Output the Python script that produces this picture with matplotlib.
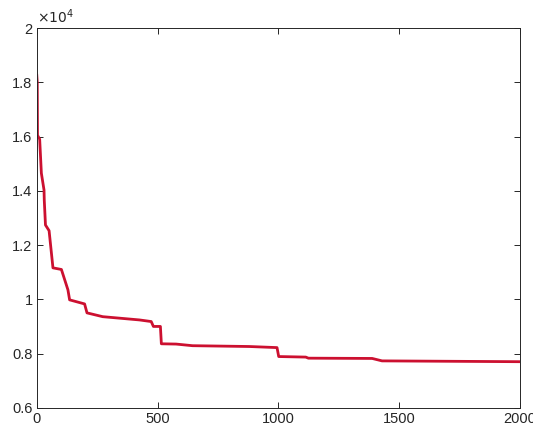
import matplotlib.pyplot as plt
from matplotlib.ticker import FuncFormatter

# convergence curve (iteration, objective value)
iters = [0, 2, 3, 12, 19, 30, 31, 36, 51, 67, 102, 129, 136, 198, 208, 273,
         425, 474, 483, 512, 516, 577, 645, 880, 995, 1002, 1114, 1125,
         1389, 1430, 2000]
values = [18260, 18000, 16050, 15900, 14650, 14030, 13660, 12740, 12530,
          11160, 11100, 10350, 9980, 9830, 9500, 9360, 9240, 9180, 9000,
          9000, 8360, 8350, 8290, 8260, 8220, 7890, 7870, 7830, 7820, 7730,
          7700]

xticks = [0, 500, 1000, 1500, 2000]
yticks = [6000, 8000, 10000, 12000, 14000, 16000, 18000, 20000]

plt.rcParams['font.family'] = ['Liberation Sans', 'DejaVu Sans']

fig = plt.figure(figsize=(5.33, 4.32), dpi=100)
ax = fig.add_axes([0.069, 0.056, 0.906, 0.879])

ax.plot(iters, values, color="#cc1030", linewidth=2.0, drawstyle="default")

ax.set_xlim(0, 2000)
ax.set_ylim(6000, 20000)
ax.set_xticks(xticks)
ax.set_yticks(yticks)
ax.yaxis.set_major_formatter(FuncFormatter(lambda v, p: "%g" % (v / 1e4)))

ax.tick_params(direction="in", length=4, width=0.7, top=True, right=True,
               colors="#262626", labelsize=10.5, pad=3)
for s in ax.spines.values():
    s.set_color("#262626")
    s.set_linewidth(0.7)

ax.text(0.0, 1.005, r"$\times10^{4}$", transform=ax.transAxes,
        fontsize=10, color="#262626", ha="left", va="bottom")

fig.savefig("out.png", dpi=100)
